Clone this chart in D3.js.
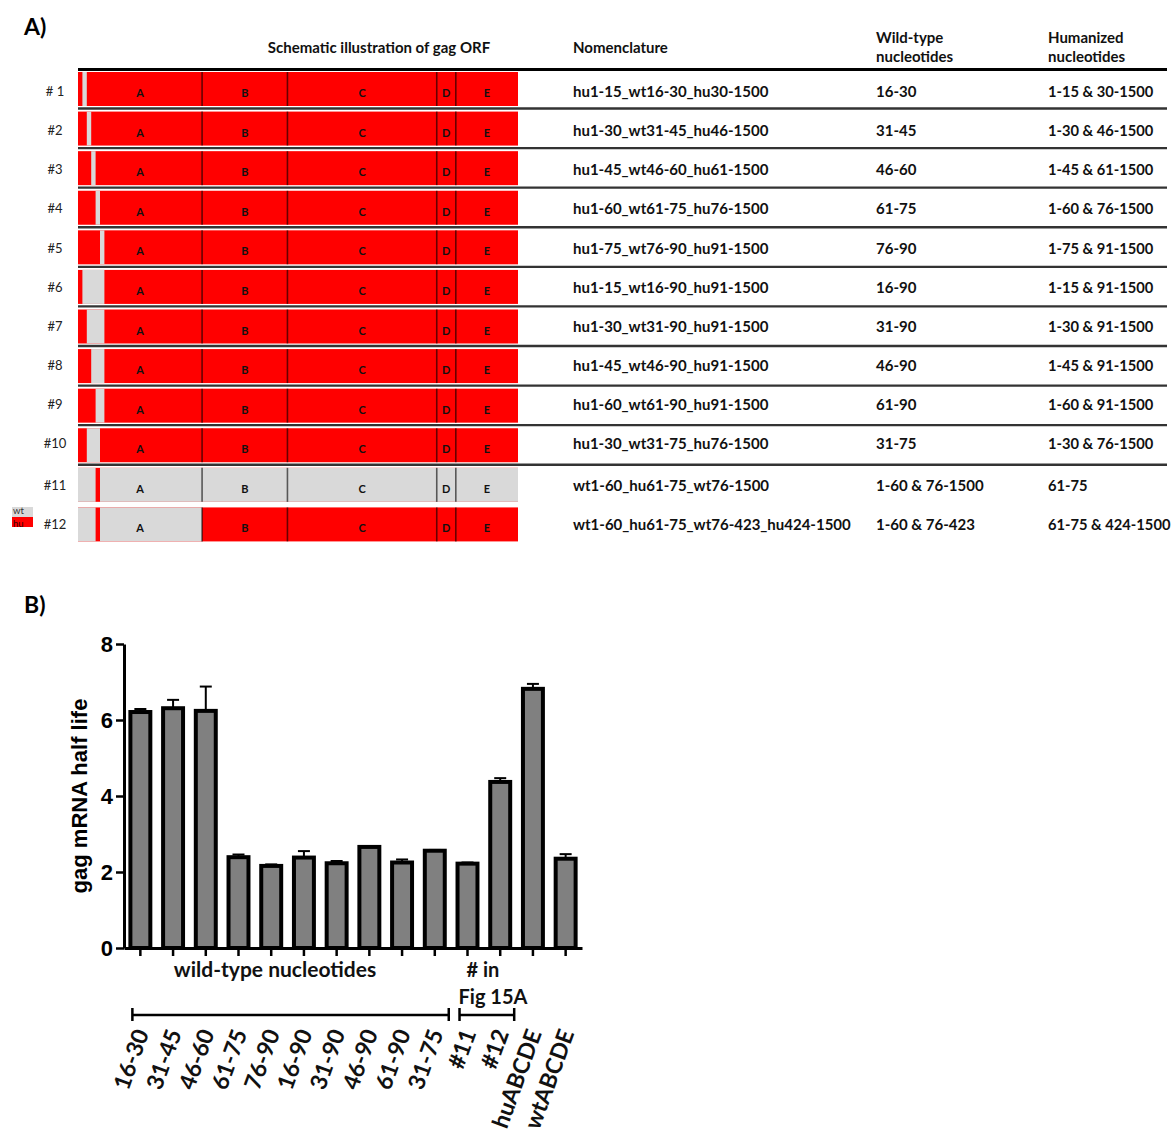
<!DOCTYPE html>
<html>
<head>
<meta charset="utf-8">
<script src="https://cdn.jsdelivr.net/npm/d3@7"></script>
<style>
  body { margin: 0; background: #fff; }
  svg { display: block; }
</style>
</head>
<body>
<svg id="fig" width="1172" height="1137"></svg>
<script>
// ---------- Panel A: constructs ----------
const rowLabels = ["# 1", "#2", "#3", "#4", "#5", "#6", "#7", "#8", "#9", "#10", "#11", "#12"];
const nomenclature = [
  "hu1-15_wt16-30_hu30-1500", "hu1-30_wt31-45_hu46-1500", "hu1-45_wt46-60_hu61-1500",
  "hu1-60_wt61-75_hu76-1500", "hu1-75_wt76-90_hu91-1500", "hu1-15_wt16-90_hu91-1500",
  "hu1-30_wt31-90_hu91-1500", "hu1-45_wt46-90_hu91-1500", "hu1-60_wt61-90_hu91-1500",
  "hu1-30_wt31-75_hu76-1500", "wt1-60_hu61-75_wt76-1500", "wt1-60_hu61-75_wt76-423_hu424-1500"
];
const wtNucleotides = ["16-30", "31-45", "46-60", "61-75", "76-90", "16-90", "31-90", "46-90",
  "61-90", "31-75", "1-60 & 76-1500", "1-60 & 76-423"];
const huNucleotides = ["1-15 & 30-1500", "1-30 & 46-1500", "1-45 & 61-1500", "1-60 & 76-1500",
  "1-75 & 91-1500", "1-15 & 91-1500", "1-30 & 91-1500", "1-45 & 91-1500", "1-60 & 91-1500",
  "1-30 & 76-1500", "61-75", "61-75 & 424-1500"];
// wild-type stretches of each construct (nucleotide ranges, inclusive)
const wtRanges = [
  [[16, 30]], [[31, 45]], [[46, 60]], [[61, 75]], [[76, 90]],
  [[16, 90]], [[31, 90]], [[46, 90]], [[61, 90]], [[31, 75]],
  [[1, 60], [76, 1500]], [[1, 60], [76, 423]]
];
const gagLength = 1500;
const domainNames = ["A", "B", "C", "D", "E"];
const domainStarts = [1, 424, 715, 1224, 1289];
const domainEnds = [423, 714, 1223, 1288, 1500];

// ---------- Panel B: half-life ----------
const barLabels = ["16-30", "31-45", "46-60", "61-75", "76-90", "16-90", "31-90", "46-90",
  "61-90", "31-75", "#11", "#12", "huABCDE", "wtABCDE"];
const halfLife = [6.21, 6.31, 6.24, 2.39, 2.16, 2.38, 2.23, 2.66, 2.25, 2.56, 2.22, 4.37, 6.82, 2.35];
const halfLifeSem = [0.08, 0.22, 0.64, 0.07, 0.04, 0.17, 0.06, 0.02, 0.08, 0.02, 0.03, 0.10, 0.13, 0.12];
const yTicks = [0, 2, 4, 6, 8];

const svg = d3.select("#fig");
const sans = "Lato, 'Open Sans', sans-serif";
const arial = "'Liberation Sans', Arial, sans-serif";
const RED = "#ff0000", GREY = "#d9d9d9";

// ===== Panel A =====
svg.append("text").attr("x", 24).attr("y", 35)
  .attr("font-family", sans).attr("font-weight", 700).attr("font-size", 23).text("A)");

const nt = d3.scaleLinear().domain([0, gagLength]).range([78, 518]);
const rowBand = d3.scaleBand().domain(rowLabels).range([70, 545]);
const tableRight = 1167;
const colNom = 573, colWt = 876, colHu = 1048;

// headers
const hdr = svg.append("g").attr("font-family", sans).attr("font-weight", 700)
  .attr("font-size", 15).attr("fill", "#111");
hdr.append("text").attr("x", 379).attr("y", 53).attr("text-anchor", "middle")
  .text("Schematic illustration of gag ORF");
hdr.append("text").attr("x", colNom).attr("y", 53).text("Nomenclature");
hdr.append("text").attr("x", colWt).attr("y", 43).text("Wild-type");
hdr.append("text").attr("x", colWt).attr("y", 62).text("nucleotides");
hdr.append("text").attr("x", colHu).attr("y", 43).text("Humanized");
hdr.append("text").attr("x", colHu).attr("y", 62).text("nucleotides");

svg.append("line").attr("x1", 78).attr("x2", tableRight).attr("y1", 69.5).attr("y2", 69.5)
  .attr("stroke", "#000").attr("stroke-width", 3.2);

const rows = svg.append("g");
rowLabels.forEach((lab, i) => {
  const top = rowBand(lab);
  const g = rows.append("g");
  const boxY = top + 2, boxH = 34, mid = boxY + boxH / 2;
  const textY = i < 10 ? mid + 6 + (4.5 - i) * 0.45 : mid + 6;
  // humanized background, wild-type stretches on top
  g.append("rect").attr("x", nt(0)).attr("y", boxY).attr("width", nt(gagLength) - nt(0))
    .attr("height", boxH).attr("fill", RED);
  wtRanges[i].forEach(([a, b]) => {
    g.append("rect").attr("x", nt(a - 1)).attr("y", boxY).attr("width", nt(b) - nt(a - 1))
      .attr("height", boxH).attr("fill", GREY);
  });
  // domain boundaries and letters
  domainStarts.forEach((s, k) => {
    if (k > 0) {
      g.append("line").attr("x1", nt(s - 1)).attr("x2", nt(s - 1))
        .attr("y1", boxY).attr("y2", boxY + boxH)
        .attr("stroke", "#000").attr("stroke-opacity", 0.6).attr("stroke-width", 1.6);
    }
    g.append("text").attr("x", nt((s - 1 + domainEnds[k]) / 2)).attr("y", mid + 8)
      .attr("text-anchor", "middle").attr("font-family", sans).attr("font-weight", 700)
      .attr("font-size", 11).attr("fill", "#111").text(domainNames[k]);
  });
  // row number
  g.append("text").attr("x", 55).attr("y", textY - 1).attr("text-anchor", "middle")
    .attr("font-family", sans).attr("font-size", 13).attr("fill", "#222").text(lab);
  // table cells
  const cells = g.append("g").attr("font-family", sans).attr("font-weight", 700)
    .attr("font-size", 15).attr("fill", "#111");
  cells.append("text").attr("x", colNom).attr("y", textY).text(nomenclature[i]);
  cells.append("text").attr("x", colWt).attr("y", textY).text(wtNucleotides[i]);
  cells.append("text").attr("x", colHu).attr("y", textY).attr("font-size", 14.7).text(huNucleotides[i]);
  // separator under rows 1-10
  if (i < 10) {
    g.append("line").attr("x1", 78).attr("x2", tableRight)
      .attr("y1", top + 38.5).attr("y2", top + 38.5)
      .attr("stroke", "#333").attr("stroke-width", 2.4);
  }
});

// wt / hu key
const key = svg.append("g").attr("font-family", sans).attr("font-size", 9.5);
key.append("rect").attr("x", 12).attr("y", 507).attr("width", 21).attr("height", 10).attr("fill", GREY);
key.append("rect").attr("x", 12).attr("y", 517).attr("width", 21).attr("height", 10).attr("fill", RED);
key.append("text").attr("x", 13).attr("y", 514).attr("fill", "#333").text("wt");
key.append("text").attr("x", 13).attr("y", 526.5).attr("fill", "#300").text("hu");

// ===== Panel B =====
svg.append("text").attr("x", 24).attr("y", 613)
  .attr("font-family", sans).attr("font-weight", 700).attr("font-size", 23).text("B)");

const y = d3.scaleLinear().domain([0, 8]).range([948, 644]);
const x = d3.scaleBand().domain(barLabels).range([124, 582]).paddingInner(0.39).paddingOuter(0.195);

const bars = svg.append("g");
barLabels.forEach((lab, i) => {
  const cx = x(lab) + x.bandwidth() / 2;
  const top = y(halfLife[i]), errTop = y(halfLife[i] + halfLifeSem[i]);
  bars.append("line").attr("x1", cx).attr("x2", cx).attr("y1", top).attr("y2", errTop)
    .attr("stroke", "#000").attr("stroke-width", 2);
  bars.append("line").attr("x1", cx - 6).attr("x2", cx + 6).attr("y1", errTop).attr("y2", errTop)
    .attr("stroke", "#000").attr("stroke-width", 2);
  bars.append("rect").attr("x", x(lab)).attr("y", top).attr("width", x.bandwidth())
    .attr("height", y(0) - top).attr("fill", "#808080").attr("stroke", "#000").attr("stroke-width", 4);
});

const yAxis = svg.append("g").attr("transform", "translate(124,0)")
  .call(d3.axisLeft(y).tickValues(yTicks).tickSize(8).tickSizeOuter(0).tickPadding(3));
const xAxis = svg.append("g").attr("transform", "translate(0,948)")
  .call(d3.axisBottom(x).tickSize(8).tickSizeOuter(0).tickFormat(""));
[yAxis, xAxis].forEach(a => {
  a.select(".domain").attr("stroke", "#000").attr("stroke-width", 3);
  a.selectAll(".tick line").attr("stroke", "#000").attr("stroke-width", 2.5);
});
yAxis.selectAll(".tick text").attr("font-family", arial).attr("font-weight", 700)
  .attr("font-size", 22).attr("fill", "#000");

svg.append("text").attr("transform", `translate(87,${y(4)}) rotate(-90)`)
  .attr("text-anchor", "middle").attr("font-family", arial).attr("font-weight", 700)
  .attr("font-size", 22).text("gag mRNA half life");

// group captions and brackets
const cap = svg.append("g").attr("font-family", sans).attr("font-weight", 700)
  .attr("fill", "#111").attr("text-anchor", "middle");
cap.append("text").attr("x", 275).attr("y", 977).attr("font-size", 21).text("wild-type nucleotides");
cap.append("text").attr("x", 483).attr("y", 977).attr("font-size", 20).text("# in");
cap.append("text").attr("x", 493).attr("y", 1004).attr("font-size", 20).text("Fig 15A");

function bracket(first, last) {
  const x1 = x(first) + 2, x2 = x(last) + x.bandwidth() + 4, yb = 1015;
  const g = svg.append("g").attr("stroke", "#000").attr("stroke-width", 2.5);
  g.append("line").attr("x1", x1).attr("x2", x2).attr("y1", yb).attr("y2", yb);
  g.append("line").attr("x1", x1).attr("x2", x1).attr("y1", yb - 7).attr("y2", yb + 6);
  g.append("line").attr("x1", x2).attr("x2", x2).attr("y1", yb - 7).attr("y2", yb + 6);
}
bracket("16-30", "31-75");
bracket("#11", "#12");

const xl = svg.append("g").attr("font-family", sans).attr("font-weight", 700)
  .attr("font-size", 23).attr("fill", "#111");
barLabels.forEach(lab => {
  const cx = x(lab) + x.bandwidth() / 2;
  xl.append("text").attr("transform", `translate(${cx + 9},1033) rotate(-70)`)
    .attr("text-anchor", "end").text(lab);
});
</script>
</body>
</html>
